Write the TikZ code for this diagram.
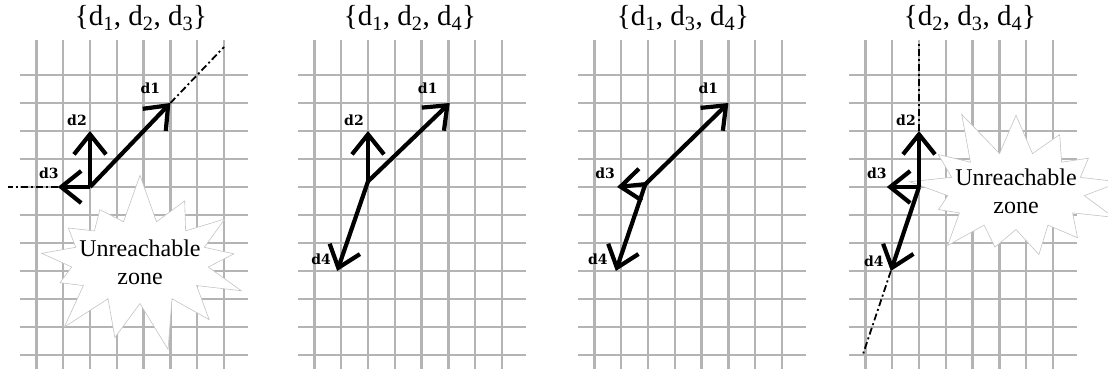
\documentclass[tikz,border=0pt]{standalone}
\usepackage{fontspec}
\setmainfont{Liberation Serif}
\newfontfamily\labelfont{DejaVu Serif}
\usetikzlibrary{arrows.meta,shapes.symbols}
\definecolor{gridgray}{HTML}{B4B4B4}
\definecolor{burstgray}{HTML}{C4C4C4}
\tikzset{
  gridline/.style={gridgray,line width=2.3pt},
  vec/.style={-{Straight Barb[length=20pt,width=32pt]},line width=4.2pt,black},
  extline/.style={black,line width=1.8pt,dash pattern=on 7pt off 3pt on 2pt off 3pt},
  dlabel/.style={font=\labelfont\bfseries\fontsize{14}{14}\selectfont,inner sep=0pt},
  settitle/.style={font=\fontsize{29}{29}\selectfont,anchor=base,inner sep=0pt},
  burst/.style={starburst,draw=burstgray,line width=0.6pt,fill=white,align=center,inner xsep=-12pt,inner ysep=0pt,
    font=\fontsize{24}{28}\selectfont,starburst points=13,starburst point height=50pt}
}

\begin{document}
\begin{tikzpicture}
\useasboundingbox (0,0) rectangle (1108pt,380pt);
\foreach \ox in {90,368,648,919}{
  \begin{scope}[shift={(\ox pt,193pt)},x=26.8pt,y=28pt]
    \foreach \i in {-2,...,5} \draw[gridline] (\i,-6.5) -- (\i,5.25);
    \foreach \j in {-6,...,4} \draw[gridline] (-2.6,\j) -- (5.9,\j);
  \end{scope}
}

\node[settitle] (set123) at (141pt,354pt) {\{d\textsubscript{1}, d\textsubscript{2}, d\textsubscript{3}\}};
\node[settitle] (set124) at (410pt,354pt) {\{d\textsubscript{1}, d\textsubscript{2}, d\textsubscript{4}\}};
\node[settitle] (set134) at (683pt,354pt) {\{d\textsubscript{1}, d\textsubscript{3}, d\textsubscript{4}\}};
\node[settitle] (set234) at (970pt,354pt) {\{d\textsubscript{2}, d\textsubscript{3}, d\textsubscript{4}\}};

\node[burst,random starburst=7,minimum width=185pt,minimum height=183pt] (zoneA) at (140pt,118pt) {Unreachable\\zone};
\node[burst,random starburst=11,minimum width=188pt,minimum height=177pt] (zoneD) at (1016pt,189pt) {Unreachable\\zone};

% first set
\begin{scope}[shift={(90pt,193pt)},x=26.8pt,y=28pt]
  \coordinate (oA) at (0,0);
  \coordinate (a1) at (3,3);
  \coordinate (a2) at (0,2);
  \coordinate (a3) at (-1.2,0);
  \coordinate (xa1) at (5,5);
  \coordinate (xa3) at (-3.05,0);
  \draw[extline] (a1) -- (xa1);
  \draw[extline] (a3) -- (xa3);
  \draw[vec] (oA) -- (a1);
  \draw[vec] (oA) -- (a2);
  \draw[vec] (oA) -- (a3);
  \node[dlabel] (la1) at ([shift={(-20pt,15pt)}]a1) {d1};
  \node[dlabel] (la2) at ([shift={(-13pt,11pt)}]a2) {d2};
  \node[dlabel] (la3) at ([shift={(-9pt,14pt)}]a3) {d3};
\end{scope}

% second set
\begin{scope}[shift={(368pt,193pt)},x=26.8pt,y=28pt]
  \coordinate (oB) at (0,0.2);
  \coordinate (b1) at (3.05,3);
  \coordinate (b2) at (0,2);
  \coordinate (b4) at (-1.15,-3);
  \draw[vec] (oB) -- (b1);
  \draw[vec] (oB) -- (b2);
  \draw[vec] (oB) -- (b4);
  \node[dlabel] (lb1) at ([shift={(-22pt,15pt)}]b1) {d1};
  \node[dlabel] (lb2) at ([shift={(-14pt,11pt)}]b2) {d2};
  \node[dlabel] (lb4) at ([shift={(-16pt,12pt)}]b4) {d4};
\end{scope}

% third set
\begin{scope}[shift={(648pt,193pt)},x=26.8pt,y=28pt]
  \coordinate (oC) at (-0.1,0.1);
  \coordinate (c1) at (3,3);
  \coordinate (c3) at (-1.15,0);
  \coordinate (c4) at (-1.2,-3);
  \draw[vec] (oC) -- (c1);
  \draw[vec] (oC) -- (c3);
  \draw[vec] (oC) -- (c4);
  \node[dlabel] (lc1) at ([shift={(-20pt,15pt)}]c1) {d1};
  \node[dlabel] (lc3) at ([shift={(-12pt,14pt)}]c3) {d3};
  \node[dlabel] (lc4) at ([shift={(-18pt,12pt)}]c4) {d4};
\end{scope}

% fourth set
\begin{scope}[shift={(919pt,193pt)},x=26.8pt,y=28pt]
  \coordinate (oD) at (0,0);
  \coordinate (e2) at (0,2);
  \coordinate (e3) at (-1.2,0);
  \coordinate (e4) at (-1.05,-3);
  \coordinate (xe2) at (0,5.2);
  \coordinate (xe4) at (-2.1,-6);
  \draw[extline] (e2) -- (xe2);
  \draw[extline] (e4) -- (xe4);
  \draw[vec] (oD) -- (e2);
  \draw[vec] (oD) -- (e3);
  \draw[vec] (oD) -- (e4);
  \node[dlabel] (le2) at ([shift={(-13pt,11pt)}]e2) {d2};
  \node[dlabel] (le3) at ([shift={(-10pt,14pt)}]e3) {d3};
  \node[dlabel] (le4) at ([shift={(-17pt,10pt)}]e4) {d4};
\end{scope}
\end{tikzpicture}
\end{document}
